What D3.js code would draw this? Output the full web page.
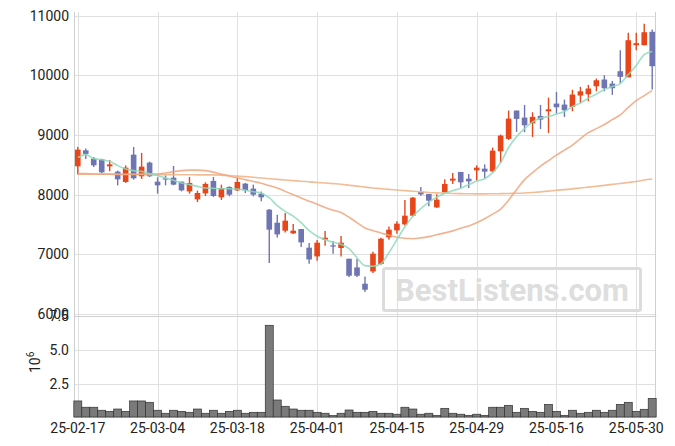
<!DOCTYPE html>
<html><head><meta charset="utf-8">
<script src="https://cdn.jsdelivr.net/npm/d3@7"></script>
<style>
html,body{margin:0;padding:0;background:#fff;}
svg{display:block;font-family:Roboto,"Noto Sans",sans-serif;}
</style></head>
<body><svg id="c" width="675" height="446"></svg>
<script>
const dates = ["2025-02-17","2025-02-18","2025-02-19","2025-02-20","2025-02-21","2025-02-24","2025-02-25","2025-02-26","2025-02-27","2025-02-28",
"2025-03-04","2025-03-05","2025-03-06","2025-03-07","2025-03-10","2025-03-11","2025-03-12","2025-03-13","2025-03-14","2025-03-17",
"2025-03-18","2025-03-19","2025-03-20","2025-03-21","2025-03-24","2025-03-25","2025-03-26","2025-03-27","2025-03-28","2025-03-31",
"2025-04-01","2025-04-02","2025-04-03","2025-04-04","2025-04-07","2025-04-08","2025-04-09","2025-04-10","2025-04-11","2025-04-14",
"2025-04-15","2025-04-16","2025-04-17","2025-04-18","2025-04-21","2025-04-22","2025-04-23","2025-04-24","2025-04-25","2025-04-28",
"2025-04-29","2025-04-30","2025-05-02","2025-05-07","2025-05-08","2025-05-09","2025-05-12","2025-05-13","2025-05-14","2025-05-15",
"2025-05-16","2025-05-19","2025-05-20","2025-05-21","2025-05-22","2025-05-23","2025-05-26","2025-05-27","2025-05-28","2025-05-29",
"2025-05-30","2025-06-02","2025-06-04"];
const open = [8475,8743,8604,8592,8475,8386,8213,8671,8308,8537,
8218,8274,8285,8218,8055,7921,8022,8230,7955,8129,
8072,8185,8101,8017,7748,7530,7396,7351,7424,7111,
6965,7245,7150,7106,6926,6780,6507,6713,6837,7284,
7401,7502,7648,8045,8012,7787,8039,8235,8381,8268,
8408,8436,8391,8727,8935,9410,9292,9196,9320,9398,
9527,9510,9471,9661,9683,9817,9930,9862,10069,9968,
10505,10505,10730];
const high = [8800,8772,8633,8604,8582,8403,8492,8800,8700,8554,
8291,8324,8481,8218,8297,8067,8207,8297,8168,8140,
8285,8196,8168,8055,7760,7664,7693,7508,7424,7189,
7240,7390,7222,7306,6926,6921,6629,7044,7278,7468,
7553,7911,7961,8129,8012,8005,8257,8364,8381,8347,
8492,8508,8789,9007,9410,9410,9505,9381,9505,9626,
9723,9594,9757,9807,9840,9946,10002,9907,10420,10713,
10713,10864,10768];
const low = [8336,8599,8465,8357,8391,8156,8196,8252,8263,8297,
8017,8156,8156,8055,8017,7877,7978,7961,7911,7972,
8062,8028,7972,7888,6854,7284,7367,7340,7122,6842,
6893,7144,7010,6965,6618,6618,6367,6685,6826,7245,
7345,7485,7636,7983,7804,7777,8022,8180,8112,8112,
8235,8274,8374,8532,8918,9052,9046,8968,9102,9035,
9359,9303,9398,9539,9566,9733,9733,9673,9862,9968,
10421,10505,9762];
const close = [8755,8683,8492,8374,8508,8257,8453,8274,8470,8308,
8156,8257,8168,8072,8196,8028,8180,7978,8112,8000,
8213,8072,8000,7955,7413,7334,7564,7396,7200,6914,
7195,7278,7133,7195,6641,6641,6406,7010,7262,7413,
7514,7648,7950,8005,7899,7916,8180,8268,8207,8223,
8453,8386,8738,8990,9275,9270,9163,9304,9258,9431,
9465,9415,9678,9733,9779,9918,9784,9784,9975,10589,
10539,10723,10153];
const volume = [1.29,0.83,0.83,0.61,0.53,0.70,0.53,1.29,1.29,1.19,
0.61,0.39,0.61,0.53,0.46,0.70,0.39,0.61,0.39,0.53,
0.61,0.39,0.46,0.46,6.82,1.36,0.90,0.70,0.61,0.61,
0.46,0.39,0.22,0.39,0.63,0.46,0.46,0.53,0.39,0.39,
0.32,0.83,0.70,0.32,0.39,0.24,0.75,0.39,0.32,0.24,
0.32,0.24,0.83,0.83,0.97,0.46,0.75,0.53,0.46,1.04,
0.53,0.24,0.61,0.39,0.46,0.61,0.46,0.61,1.04,1.19,
0.53,0.68,1.48];
const ma5 = [8620,8671,8604,8587,8559,8487,8431,8403,8391,8352,
8319,8280,8240,8196,8168,8139,8112,8105,8100,8100,
8096,8075,8050,8025,7950,7815,7720,7640,7530,7396,
7303,7245,7203,7169,7094,6943,6810,6800,6842,7027,
7245,7463,7639,7765,7874,7958,8025,8067,8109,8168,
8227,8268,8369,8537,8790,8973,9107,9217,9284,9309,
9351,9393,9477,9535,9619,9686,9762,9812,9862,10013,
10165,10349,10400];
const ma20 = [8352,8352,8347,8344,8344,8344,8341,8341,8344,8344,
8347,8364,8386,8403,8411,8411,8403,8378,8344,8310,
8280,8252,8221,8193,8151,8112,8055,8000,7946,7891,
7841,7785,7740,7701,7622,7530,7441,7396,7359,7320,
7287,7270,7262,7275,7297,7329,7359,7393,7438,7476,
7530,7597,7673,7757,7908,8084,8252,8369,8478,8571,
8663,8747,8831,8940,9040,9107,9175,9259,9337,9463,
9577,9661,9745];
const ma60 = [8344,8342,8342,8341,8341,8339,8339,8337,8337,8336,
8336,8336,8336,8334,8334,8332,8332,8331,8327,8319,
8310,8302,8292,8280,8268,8257,8245,8235,8225,8215,
8205,8195,8185,8175,8159,8143,8126,8112,8101,8089,
8077,8067,8057,8047,8037,8030,8025,8020,8017,8015,
8013,8013,8015,8017,8020,8023,8029,8037,8047,8059,
8074,8084,8097,8112,8126,8141,8156,8173,8188,8205,
8221,8245,8263];
const xTickDates = ["2025-02-17","2025-03-04","2025-03-18","2025-04-01","2025-04-15","2025-04-29","2025-05-16","2025-05-30"];
const xTickLabels = ["25-02-17","25-03-04","25-03-18","25-04-01","25-04-15","25-04-29","25-05-16","25-05-30"];
const priceTicks = [6000,7000,8000,9000,10000,11000];
const volTicks = [2.5,5.0,7.5];

const svg = d3.select("#c");
const L = 73.8, R = 656.2;
const x = d3.scaleBand().domain(dates).range([L, R]).padding(0);
const bw = x.bandwidth();
const cx = d => x(d) + bw / 2;
const y = d3.scaleLinear().domain([5966, 11062]).range([316, 12]);
const yv = d3.scaleLinear().domain([0, 7.5]).range([418.6, 316]);
const volBottom = 417;

const grid = svg.append("g").attr("stroke", "#e0e0e0").attr("stroke-width", 1);
priceTicks.forEach(t => grid.append("line").attr("x1", L).attr("x2", R).attr("y1", Math.round(y(t))+0.5).attr("y2", Math.round(y(t))+0.5));
volTicks.forEach(t => grid.append("line").attr("x1", L).attr("x2", R).attr("y1", Math.round(yv(t))+0.5).attr("y2", Math.round(yv(t))+0.5));
xTickDates.forEach(d => grid.append("line").attr("x1", Math.round(cx(d))+0.5).attr("x2", Math.round(cx(d))+0.5).attr("y1", 12).attr("y2", volBottom));
const fr = svg.append("g").attr("stroke", "#cfcfcf").attr("stroke-width", 1);
fr.append("line").attr("x1", 74.5).attr("x2", 74.5).attr("y1", 12).attr("y2", volBottom);
fr.append("line").attr("x1", 655.5).attr("x2", 655.5).attr("y1", 12).attr("y2", volBottom);
fr.append("line").attr("x1", L).attr("x2", R).attr("y1", 316.5).attr("y2", 316.5);
fr.append("line").attr("x1", L).attr("x2", R).attr("y1", volBottom+0.5).attr("y2", volBottom+0.5);

svg.append("rect").attr("x", 383.5).attr("y", 268.5).attr("width", 257).attr("height", 42).attr("rx", 2)
  .attr("fill", "none").attr("stroke", "#dcdcdc").attr("stroke-width", 3);
svg.append("text").attr("x", 512).attr("y", 301).attr("text-anchor", "middle")
  .attr("font-size", 31).attr("font-weight", "bold").attr("fill", "#dedede").text("BestListens.com");

svg.append("g").selectAll("rect").data(dates).join("rect")
  .attr("x", d => x(d)).attr("width", bw)
  .attr("y", (d, i) => yv(volume[i])).attr("height", (d, i) => volBottom - yv(volume[i]))
  .attr("fill", "#7a7a7a").attr("stroke", "#333").attr("stroke-width", 0.7);

const up = "#e6461a", down = "#6f74b2";
const cg = svg.append("g");
dates.forEach((d, i) => {
  const col = close[i] >= open[i] ? up : down;
  cg.append("line").attr("x1", cx(d)).attr("x2", cx(d)).attr("y1", y(high[i])).attr("y2", y(low[i]))
    .attr("stroke", col).attr("stroke-width", 1.4);
  const top = y(Math.max(open[i], close[i])), bot = y(Math.min(open[i], close[i]));
  cg.append("rect").attr("x", cx(d) - 2.8).attr("width", 5.6).attr("y", top).attr("height", Math.max(1.2, bot - top))
    .attr("fill", col);
});

const line = arr => d3.line().x((v, i) => cx(dates[i])).y(v => y(v)).curve(d3.curveMonotoneX)(arr);
svg.append("path").attr("d", line(ma60)).attr("fill", "none").attr("stroke", "#efb68c").attr("stroke-width", 1.6).attr("opacity", 0.9);
svg.append("path").attr("d", line(ma20)).attr("fill", "none").attr("stroke", "#f0a47e").attr("stroke-width", 1.6).attr("opacity", 0.85);
svg.append("path").attr("d", line(ma5)).attr("fill", "none").attr("stroke", "#8fd9bb").attr("stroke-width", 1.6).attr("opacity", 0.85);

const tx = svg.append("g").attr("fill", "#222").attr("font-size", 14);
priceTicks.forEach(t => tx.append("text").attr("x", 69).attr("y", y(t)).attr("dy", "0.36em").attr("text-anchor", "end").text(t));
volTicks.forEach(t => tx.append("text").attr("x", 69).attr("y", yv(t)).attr("dy", "0.36em").attr("text-anchor", "end").text(t.toFixed(1)));
xTickDates.forEach((d, k) => tx.append("text").attr("x", cx(d)).attr("y", 428).attr("dy", "0.36em").attr("text-anchor", "middle").text(xTickLabels[k]));
const yl = tx.append("text").attr("transform", "translate(40,373) rotate(-90)").attr("font-size", 14);
yl.append("tspan").text("10");
yl.append("tspan").attr("dy", -6).attr("font-size", 10).text("6");
</script></body></html>
